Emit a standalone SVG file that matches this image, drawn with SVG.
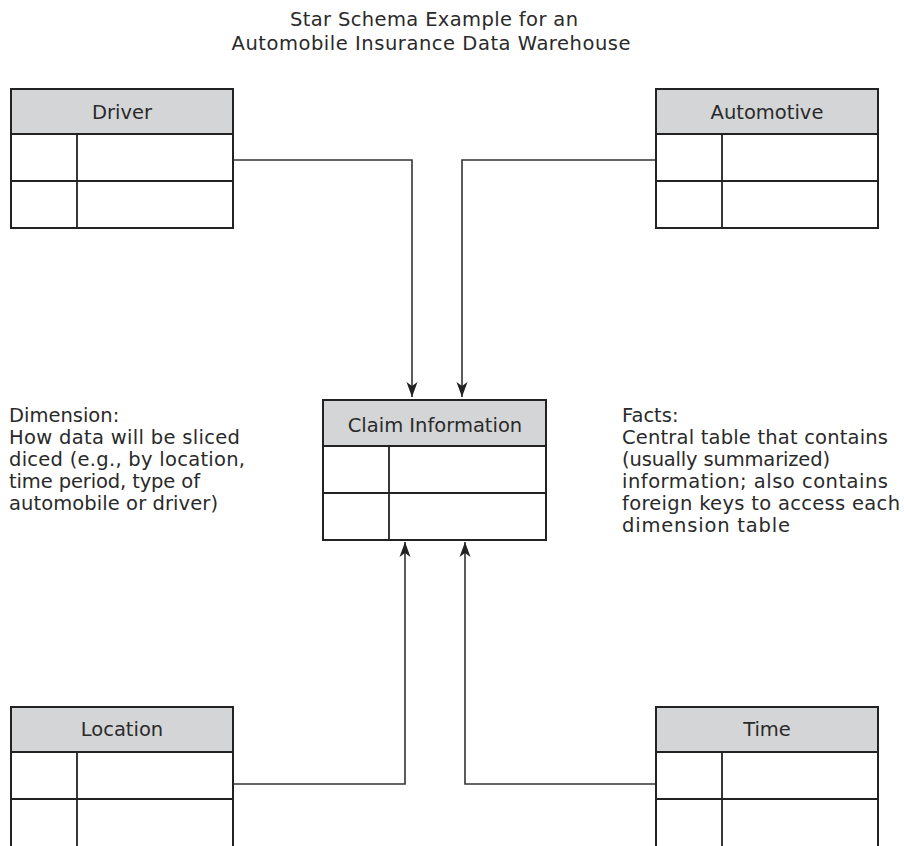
<svg xmlns="http://www.w3.org/2000/svg" width="904" height="846" viewBox="0 0 904 846">
<defs>
<style>
text{font-family:"DejaVu Sans","Liberation Sans",sans-serif;fill:#2a2a2a;font-size:19.5px}
.t{text-anchor:middle}
.hdr{fill:#d4d5d7;stroke:#222;stroke-width:2}
.box{fill:#fff;stroke:#222;stroke-width:2}
.ln{fill:none;stroke:#222;stroke-width:1.8}
.cn{fill:none;stroke:#333;stroke-width:1.6}
</style>
<marker id="ah" markerUnits="userSpaceOnUse" markerWidth="16" markerHeight="12" viewBox="0 0 16 12" refX="15" refY="6" orient="auto">
<path d="M0,0.5 L15,6 L0,11.5 L4,6 Z" fill="#222"/>
</marker>
</defs>
<rect width="904" height="846" fill="#fff"/>
<g id="title">
<text class="t" x="434" y="26" textLength="288">Star Schema Example for an</text>
<text class="t" x="431" y="50" textLength="399">Automobile Insurance Data Warehouse</text>
</g>
<g id="connectors">
<path class="cn" d="M233,160 H412 V397" marker-end="url(#ah)"/>
<path class="cn" d="M656,160 H462 V397" marker-end="url(#ah)"/>
<path class="cn" d="M233,784 H405 V542" marker-end="url(#ah)"/>
<path class="cn" d="M656,784 H465 V542" marker-end="url(#ah)"/>
</g>
<g id="driver">
<rect class="box" x="11" y="134" width="222" height="94"/>
<rect class="hdr" x="11" y="89" width="222" height="45"/>
<path class="ln" d="M11,181 H233 M77,134 V228"/>
<text class="t" x="122" y="119">Driver</text>
</g>
<g id="automotive">
<rect class="box" x="656" y="134" width="222" height="94"/>
<rect class="hdr" x="656" y="89" width="222" height="45"/>
<path class="ln" d="M656,181 H878 M722,134 V228"/>
<text class="t" x="767" y="119">Automotive</text>
</g>
<g id="claim">
<rect class="box" x="323" y="446" width="223" height="94"/>
<rect class="hdr" x="323" y="400" width="223" height="46"/>
<path class="ln" d="M323,493 H546 M389,446 V540"/>
<text class="t" x="435" y="432">Claim Information</text>
</g>
<g id="location">
<rect class="box" x="11" y="752" width="222" height="140"/>
<rect class="hdr" x="11" y="707" width="222" height="45"/>
<path class="ln" d="M11,799 H233 M77,752 V892"/>
<text class="t" x="122" y="736">Location</text>
</g>
<g id="time">
<rect class="box" x="656" y="752" width="222" height="140"/>
<rect class="hdr" x="656" y="707" width="222" height="45"/>
<path class="ln" d="M656,799 H878 M722,752 V892"/>
<text class="t" x="767" y="736">Time</text>
</g>
<g id="dimension-note">
<text x="9" y="422">Dimension:</text>
<text x="9" y="444" textLength="231">How data will be sliced</text>
<text x="9" y="466" textLength="236">diced (e.g., by location,</text>
<text x="9" y="488" textLength="191">time period, type of</text>
<text x="9" y="510" textLength="209">automobile or driver)</text>
</g>
<g id="facts-note">
<text x="622" y="422">Facts:</text>
<text x="622" y="444" textLength="266">Central table that contains</text>
<text x="622" y="466" textLength="208">(usually summarized)</text>
<text x="622" y="488" textLength="266">information; also contains</text>
<text x="622" y="510" textLength="278">foreign keys to access each</text>
<text x="622" y="532" textLength="168">dimension table</text>
</g>
</svg>
